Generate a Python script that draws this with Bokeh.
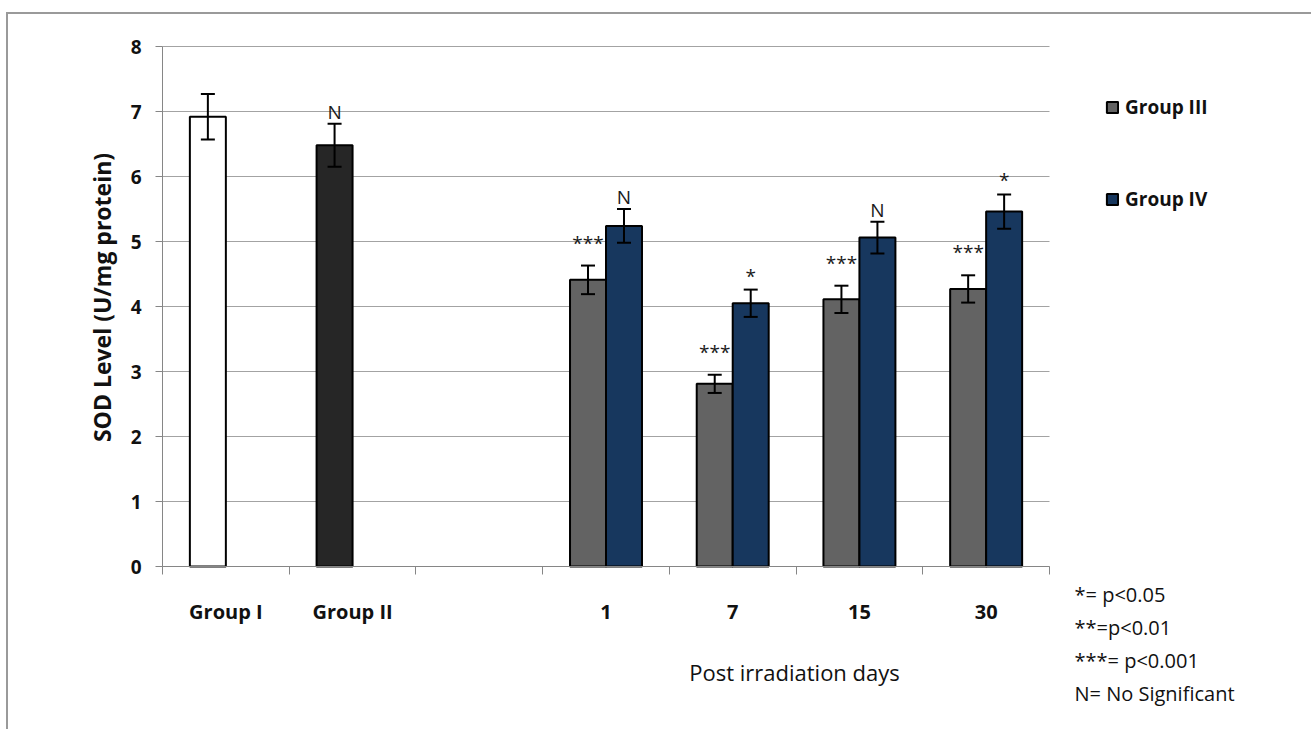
import math
from bokeh.plotting import figure
from bokeh.models import (ColumnDataSource, Range1d, FixedTicker, Whisker, TeeHead,
                          Legend, LegendItem, Label, LinearAxis, Grid)
from bokeh.embed import file_html
from bokeh.resources import INLINE
from bokeh.core.properties import value

# ---------------- data ----------------
categories = ["Group I", "Group II", "", "1", "7", "15", "30"]

control_groups = ["Group I", "Group II"]
control_means = [6.92, 6.48]
control_errs = [0.35, 0.33]
control_colors = ["#ffffff", "#262626"]
control_sig = ["", "N"]

days = ["1", "7", "15", "30"]
group3_means = [4.41, 2.81, 4.11, 4.27]
group3_errs = [0.22, 0.14, 0.21, 0.21]
group3_sig = ["***", "***", "***", "***"]

group4_means = [5.24, 4.05, 5.06, 5.46]
group4_errs = [0.26, 0.21, 0.245, 0.265]
group4_sig = ["N", "*", "N", "*"]

series_names = ["Group III", "Group IV"]
series_colors = ["#636363", "#17375e"]

y_ticks = [0, 1, 2, 3, 4, 5, 6, 7, 8]
y_title = "SOD Level  (U/mg protein)"
x_title = "Post irradiation days"
footnotes = ["*= p<0.05", "**=p<0.01", "***= p<0.001", "N=  No Significant"]

# ---------------- geometry (pixels) ----------------
W, H = 1305, 717            # canvas size (page offset 8, 14 from margin+border)
OX, OY = 8, 14              # canvas origin on the page
AX_LEFT, AX_RIGHT = 162, 1049   # page x of first / last category boundary
AX_TOP, AX_BOTTOM = 46, 566     # page y of y=8 and y=0
Y_MAX = 8

def sx(px):                 # page x -> frame screen x
    return px - OX

def sy(py):                 # page y -> frame screen y (from bottom)
    return OY + H - py

ncat = len(categories)
ux = (AX_RIGHT - AX_LEFT) / ncat
uy = (AX_BOTTOM - AX_TOP) / Y_MAX
x_range = Range1d(-(AX_LEFT - OX) / ux, ncat + (OX + W - AX_RIGHT) / ux)
y_range = Range1d(-(OY + H - AX_BOTTOM) / uy, Y_MAX + (AX_TOP - OY) / uy)

FONT = "Open Sans"
BAR_W = 0.284
SIG_OFFSET = {"": 0, "N": -12, "*": -14, "***": -23}
center = {c: i + 0.5 for i, c in enumerate(categories)}

p = figure(width=W, height=H, x_range=x_range, y_range=y_range,
           x_axis_location=None, y_axis_location=None,
           output_backend="svg", toolbar_location=None,
           min_border=0)
p.styles = {"margin-left": "6px", "margin-top": "12px",
            "border-left": "2px solid #9a9a9a", "border-top": "2px solid #9a9a9a"}
p.outline_line_color = None
p.background_fill_color = "white"
p.border_fill_color = "white"
for g in p.select(type=Grid):
    g.visible = False

# horizontal gridlines limited to the plotting area
p.segment(x0=0, x1=ncat, y0=y_ticks, y1=y_ticks, line_color="#a3a3a3",
          line_width=1, level="underlay")

# x axis: labels at category centres, tick marks at category boundaries
xa = LinearAxis(fixed_location=0, bounds=(0, ncat),
                ticker=FixedTicker(ticks=[center[c] for c in categories],
                                   minor_ticks=list(range(ncat + 1))))
xa.major_label_overrides = {center[c]: c for c in categories}
xa.major_tick_out = 0
xa.major_tick_in = 0
xa.minor_tick_out = 8
xa.minor_tick_in = 0
xa.minor_tick_line_color = "#868686"
xa.axis_line_color = "#868686"
xa.major_label_text_font = FONT
xa.major_label_text_font_style = "bold"
xa.major_label_text_font_size = "20px"
xa.major_label_text_color = "#111111"
xa.major_label_standoff = 23
p.add_layout(xa, "below")

ya = LinearAxis(fixed_location=0, bounds=(0, Y_MAX),
                ticker=FixedTicker(ticks=y_ticks, minor_ticks=[]))
ya.major_tick_out = 7
ya.major_tick_in = 0
ya.major_tick_line_color = "#868686"
ya.axis_line_color = "#868686"
ya.major_label_text_font = FONT
ya.major_label_text_font_style = "bold"
ya.major_label_text_font_size = "19px"
ya.major_label_text_color = "#111111"
ya.major_label_standoff = 14
p.add_layout(ya, "left")

# ---------------- control bars ----------------
ctrl_src = ColumnDataSource(dict(
    x=[center[g] - BAR_W / 2 for g in control_groups],
    top=control_means,
    upper=[m + e for m, e in zip(control_means, control_errs)],
    lower=[m - e for m, e in zip(control_means, control_errs)],
    color=control_colors,
    sig=control_sig,
    off=[SIG_OFFSET[s] for s in control_sig],
))
p.vbar(x="x", top="top", bottom=0, width=BAR_W, source=ctrl_src,
       fill_color="color", line_color="black", line_width=2)

def add_whisker(src):
    p.add_layout(Whisker(source=src, base="x", upper="upper", lower="lower",
                         line_width=2, line_color="black", level="overlay",
                         upper_head=TeeHead(size=14, line_width=2, line_color="black"),
                         lower_head=TeeHead(size=14, line_width=2, line_color="black")))

def add_sig(src):
    p.text(x="x", y="upper", text="sig", source=src, y_offset="off",
           text_align="center", text_baseline="alphabetic",
           text_font=value(FONT), text_font_size="19px", text_color="#1a1a1a")

add_whisker(ctrl_src)
add_sig(ctrl_src)

# ---------------- day bars ----------------
renderers = []
for k, (means, errs, sig) in enumerate([(group3_means, group3_errs, group3_sig),
                                         (group4_means, group4_errs, group4_sig)]):
    off = (-0.5 + k) * BAR_W
    src = ColumnDataSource(dict(
        x=[center[d] + off for d in days],
        top=means,
        upper=[m + e for m, e in zip(means, errs)],
        lower=[m - e for m, e in zip(means, errs)],
        sig=sig,
        off=[SIG_OFFSET[s] for s in sig],
    ))
    r = p.vbar(x="x", top="top", bottom=0, width=BAR_W, source=src,
               fill_color=series_colors[k], line_color="black", line_width=2)
    renderers.append(r)
    add_whisker(src)
    add_sig(src)

# ---------------- legend ----------------
legend = Legend(items=[LegendItem(label=n, renderers=[r]) for n, r in zip(series_names, renderers)],
                location=(sx(1105), sy(212)), orientation="vertical",
                glyph_width=14, glyph_height=14, label_standoff=6,
                label_text_font=FONT, label_text_font_style="bold",
                label_text_font_size="19px", label_text_color="#111111",
                label_height=26, spacing=66, padding=0, margin=0,
                border_line_color=None, background_fill_alpha=0)
p.add_layout(legend)

# ---------------- titles & notes ----------------
p.add_layout(Label(x=sx(101), y=sy(294), x_units="screen", y_units="screen", text=y_title,
                   angle=math.pi / 2, text_align="center", text_baseline="middle",
                   text_font=FONT, text_font_style="bold", text_font_size="23px",
                   text_color="#111111"))
p.add_layout(Label(x=sx(794), y=sy(671), x_units="screen", y_units="screen", text=x_title,
                   text_align="center", text_baseline="alphabetic",
                   text_font=FONT, text_font_size="22px", text_color="#111111"))
for i, note in enumerate(footnotes):
    p.add_layout(Label(x=sx(1074), y=sy(594 + 33 * i), x_units="screen", y_units="screen",
                       text=note, text_align="left", text_baseline="alphabetic",
                       text_font=FONT, text_font_size="20px", text_color="#111111"))

open("out.html", "w").write(file_html(p, INLINE))
